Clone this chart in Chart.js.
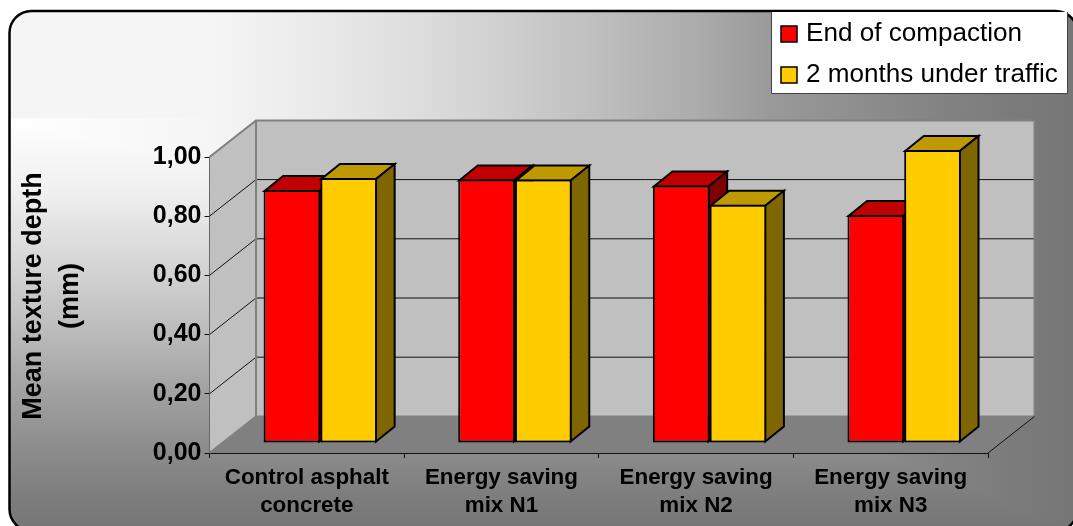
<!DOCTYPE html>
<html>
<head>
<meta charset="utf-8">
<title>Mean texture depth</title>
<script src="https://cdn.jsdelivr.net/npm/chart.js@4"></script>
<style>
    html, body { margin: 0; padding: 0; background: #fff; }
    canvas { display: block; }
</style>
</head>
<body>
<canvas id="textureChart" width="1073" height="526"></canvas>
<script>
const categories = [
    ['Control asphalt', 'concrete'],
    ['Energy saving', 'mix N1'],
    ['Energy saving', 'mix N2'],
    ['Energy saving', 'mix N3'],
]
const endOfCompaction = [0.855, 0.89, 0.87, 0.77]
const underTraffic = [0.895, 0.89, 0.805, 0.99]
const yAxisLines = ['Mean texture depth', '(mm)']

const FONT = '"Liberation Sans", Arial, sans-serif'

// depth of the box behind the axes, and how far the bars sit inside it
const wall = { dx: 46.5, dy: -36.6 }
const barShift = { dx: 13.5, dy: -10 }
const barDepth = { dx: 18.6, dy: -15 }

function poly(ctx, pts) {
    ctx.beginPath()
    pts.forEach((p, i) => i ? ctx.lineTo(p[0], p[1]) : ctx.moveTo(p[0], p[1]))
    ctx.closePath()
}

function gradient(ctx, x0, y0, x1, y1, stops) {
    const g = ctx.createLinearGradient(x0, y0, x1, y1)
    const span = (x1 - x0) + (y1 - y0)
    stops.forEach((s) => g.addColorStop((s[0] - x0 - y0) / span, s[1]))
    return g
}

function drawBarFaces(ctx, meta, ds) {
    const dx = barDepth.dx, dy = barDepth.dy
    ctx.save()
    ctx.strokeStyle = '#000'
    ctx.lineWidth = 2
    ctx.lineJoin = 'miter'
    meta.data.forEach((bar) => {
        const l = bar.x - bar.width / 2 + 1, r = bar.x + bar.width / 2 - 1
        const t = bar.y + 1, b = bar.base - 1
        ctx.fillStyle = ds.topColor
        poly(ctx, [[l, t], [l + dx, t + dy], [r + dx, t + dy], [r, t]])
        ctx.fill()
        ctx.stroke()
        ctx.fillStyle = ds.sideColor
        poly(ctx, [[r, t], [r + dx, t + dy], [r + dx, b + dy], [r, b]])
        ctx.fill()
        ctx.stroke()
    })
    ctx.restore()
}

const panelPlugin = {
    id: 'panel',
    beforeDraw(chart) {
        const ctx = chart.ctx
        const x = 9.5, y = 11, w = 1068, h = 520, r = 22
        ctx.save()
        ctx.beginPath()
        ctx.roundRect(x, y, w, h, r)
        ctx.save()
        ctx.clip()
        ctx.fillStyle = gradient(ctx, 0, 0, 1073, 0, [
            [0, '#ffffff'], [200, '#f6f6f6'], [300, '#ececec'], [400, '#e0e0e0'],
            [500, '#d0d0d0'], [600, '#bebebe'], [700, '#ababab'], [770, '#9a9a9a'],
            [900, '#888888'], [1020, '#7a7a7a'], [1073, '#777777'],
        ])
        ctx.fillRect(0, 0, 1073, 526)
        ctx.globalCompositeOperation = 'darken'
        ctx.fillStyle = gradient(ctx, 0, 118, 0, 526, [
            [118, '#ffffff'], [190, '#f0f0f0'], [257, '#d8d8d8'], [320, '#c0c0c0'],
            [390, '#a2a2a2'], [450, '#8c8c8c'], [500, '#7c7c7c'], [526, '#777777'],
        ])
        ctx.fillRect(0, 118, 1073, 408)
        ctx.fillStyle = '#f5f5f5'
        ctx.fillRect(0, 0, 1073, 118)
        ctx.restore()
        ctx.lineWidth = 2.5
        ctx.strokeStyle = '#000'
        ctx.stroke()
        ctx.restore()
    },
    beforeDatasetsDraw(chart) {
        const ctx = chart.ctx
        const { left, right, top, bottom } = chart.chartArea
        const dx = wall.dx, dy = wall.dy

        ctx.save()
        // back wall, side wall and floor
        ctx.fillStyle = '#c0c0c0'
        poly(ctx, [[left + dx, top + dy], [right + dx, top + dy], [right + dx, bottom + dy], [left + dx, bottom + dy]])
        ctx.fill()
        poly(ctx, [[left, top], [left + dx, top + dy], [left + dx, bottom + dy], [left, bottom]])
        ctx.fill()
        ctx.fillStyle = '#808080'
        poly(ctx, [[left, bottom], [right, bottom], [right + dx, bottom + dy], [left + dx, bottom + dy]])
        ctx.fill()

        // grid lines wrap from the side wall onto the back wall
        const yScale = chart.scales.y
        ctx.strokeStyle = '#111'
        ctx.lineWidth = 1
        yScale.ticks.forEach((t) => {
            if (t.value === 0 || t.value === 1) return
            const py = yScale.getPixelForValue(t.value)
            ctx.beginPath()
            ctx.moveTo(left, py)
            ctx.lineTo(left + dx, py + dy)
            ctx.lineTo(right + dx, py + dy)
            ctx.stroke()
        })

        // wall outline
        ctx.strokeStyle = '#808080'
        ctx.lineWidth = 2
        ctx.beginPath()
        ctx.moveTo(left, top)
        ctx.lineTo(left + dx, top + dy)
        ctx.lineTo(right + dx, top + dy)
        ctx.lineTo(right + dx, bottom + dy)
        ctx.lineTo(left + dx, bottom + dy)
        ctx.lineTo(left, bottom)
        ctx.moveTo(left + dx, top + dy)
        ctx.lineTo(left + dx, bottom + dy)
        ctx.stroke()

        ctx.strokeStyle = '#111'
        ctx.lineWidth = 1
        ctx.beginPath()
        ctx.moveTo(right, bottom)
        ctx.lineTo(right + dx, bottom + dy)
        ctx.stroke()
        ctx.restore()

        // bars stand a little behind the axis plane; the left series goes
        // first so the right one overlaps it, the opposite of the default order
        ctx.save()
        ctx.translate(barShift.dx, barShift.dy)
        chart.getSortedVisibleDatasetMetas().forEach((meta) => {
            drawBarFaces(ctx, meta, chart.data.datasets[meta.index])
            meta.controller.draw()
        })
        ctx.restore()
        return false
    },
    afterDraw(chart) {
        const ctx = chart.ctx
        ctx.save()

        // y axis caption
        ctx.fillStyle = '#000'
        ctx.font = 'bold 27px ' + FONT
        ctx.textAlign = 'center'
        ctx.textBaseline = 'alphabetic'
        ctx.save()
        ctx.translate(41, 296)
        ctx.rotate(-Math.PI / 2)
        ctx.fillText(yAxisLines[0], 0, 0)
        ctx.fillText(yAxisLines[1], 0, 37)
        ctx.restore()

        // legend box
        ctx.fillStyle = '#fff'
        ctx.strokeStyle = '#444'
        ctx.lineWidth = 1
        ctx.fillRect(771.5, 12, 296, 81)
        ctx.beginPath()
        ctx.moveTo(771.5, 12)
        ctx.lineTo(771.5, 93.5)
        ctx.lineTo(1067.5, 93.5)
        ctx.lineTo(1067.5, 12)
        ctx.stroke()
        ctx.font = '26.1px ' + FONT
        ctx.textAlign = 'left'
        ctx.textBaseline = 'middle'
        chart.data.datasets.forEach((ds, i) => {
            const y = 26 + i * 41
            ctx.fillStyle = ds.backgroundColor
            ctx.fillRect(781, y, 16, 16)
            ctx.strokeStyle = '#000'
            ctx.lineWidth = 1.5
            ctx.strokeRect(781, y, 16, 16)
            ctx.fillStyle = '#000'
            ctx.fillText(ds.label, 806, y + 8)
        })
        ctx.restore()
    },
}

new Chart(document.getElementById('textureChart').getContext('2d'), {
    type: 'bar',
    data: {
        labels: categories,
        datasets: [
            {
                label: 'End of compaction',
                data: endOfCompaction,
                backgroundColor: '#ff0000',
                topColor: '#c00000',
                sideColor: '#7f0000',
                borderColor: '#000',
                borderWidth: 2,
                borderSkipped: false,
            },
            {
                label: '2 months under traffic',
                data: underTraffic,
                backgroundColor: '#ffcc00',
                topColor: '#bf9900',
                sideColor: '#7f6600',
                borderColor: '#000',
                borderWidth: 2,
                borderSkipped: false,
            },
        ],
    },
    options: {
        responsive: false,
        animation: false,
        events: [],
        categoryPercentage: 0.583,
        barPercentage: 1,
        layout: { padding: { left: 0, top: 157, right: 85, bottom: 0 } },
        plugins: {
            legend: { display: false },
            title: { display: false },
            tooltip: { enabled: false },
        },
        scales: {
            x: {
                afterFit(scale) { scale.height = 73 },
                grid: { drawOnChartArea: false, tickLength: 5, tickColor: '#111' },
                border: { color: '#111', width: 1 },
                ticks: {
                    maxRotation: 0,
                    autoSkip: false,
                    color: '#000',
                    padding: 6,
                    font: { family: FONT, size: 22.4, weight: 'bold', lineHeight: 1.24 },
                },
            },
            y: {
                min: 0,
                max: 1,
                afterFit(scale) { scale.width = 209.5 },
                grid: { drawOnChartArea: false, tickLength: 5, tickColor: '#111' },
                border: { color: '#111', width: 1 },
                ticks: {
                    stepSize: 0.2,
                    color: '#000',
                    padding: 3,
                    font: { family: FONT, size: 25, weight: 'bold' },
                    callback: (v) => v.toFixed(2).replace('.', ','),
                },
            },
        },
    },
    plugins: [panelPlugin],
})
</script>
</body>
</html>
